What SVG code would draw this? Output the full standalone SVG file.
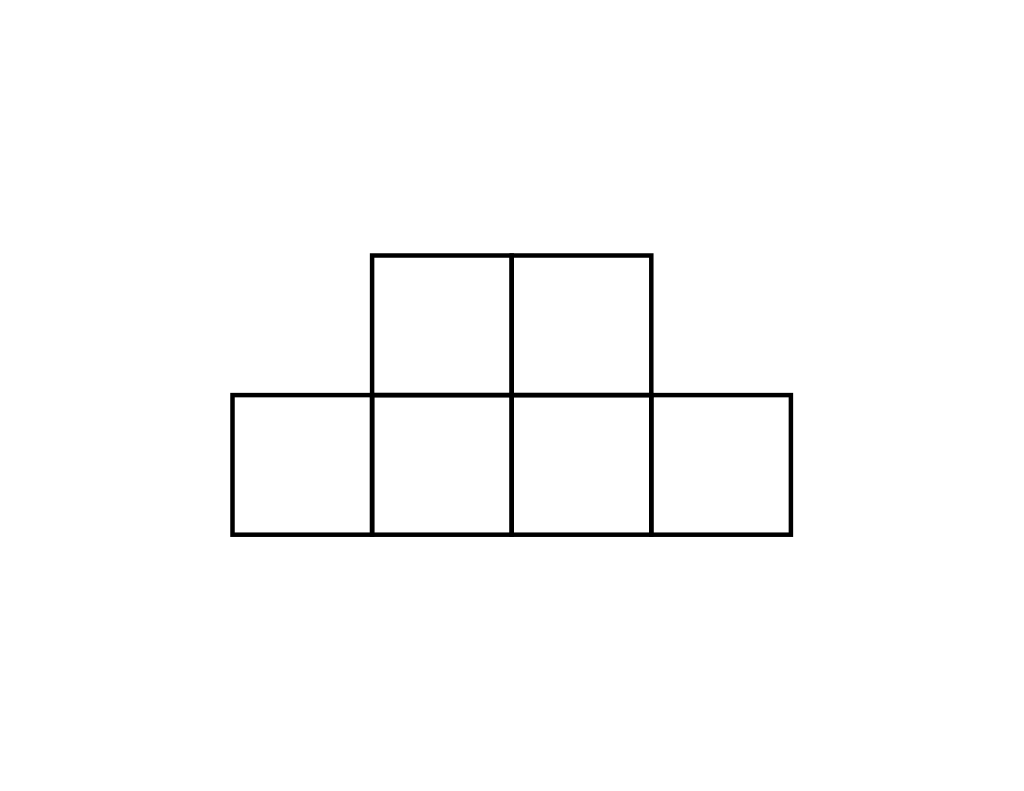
<svg xmlns="http://www.w3.org/2000/svg" width="1024" height="791" viewBox="0 0 1024 791">
<style>
.cell{fill:none;stroke:#000;stroke-width:4.5}
</style>
<rect width="1024" height="791" fill="#fff"/>
<g id="cell-top-1"><rect class="cell" x="372.1" y="255.5" width="139.6" height="139.6"/></g>
<g id="cell-top-2"><rect class="cell" x="511.7" y="255.5" width="139.6" height="139.6"/></g>
<g id="cell-bottom-1"><rect class="cell" x="232.5" y="395.1" width="139.6" height="139.6"/></g>
<g id="cell-bottom-2"><rect class="cell" x="372.1" y="395.1" width="139.6" height="139.6"/></g>
<g id="cell-bottom-3"><rect class="cell" x="511.7" y="395.1" width="139.6" height="139.6"/></g>
<g id="cell-bottom-4"><rect class="cell" x="651.3" y="395.1" width="139.6" height="139.6"/></g>
<g id="connectors"></g>
</svg>
